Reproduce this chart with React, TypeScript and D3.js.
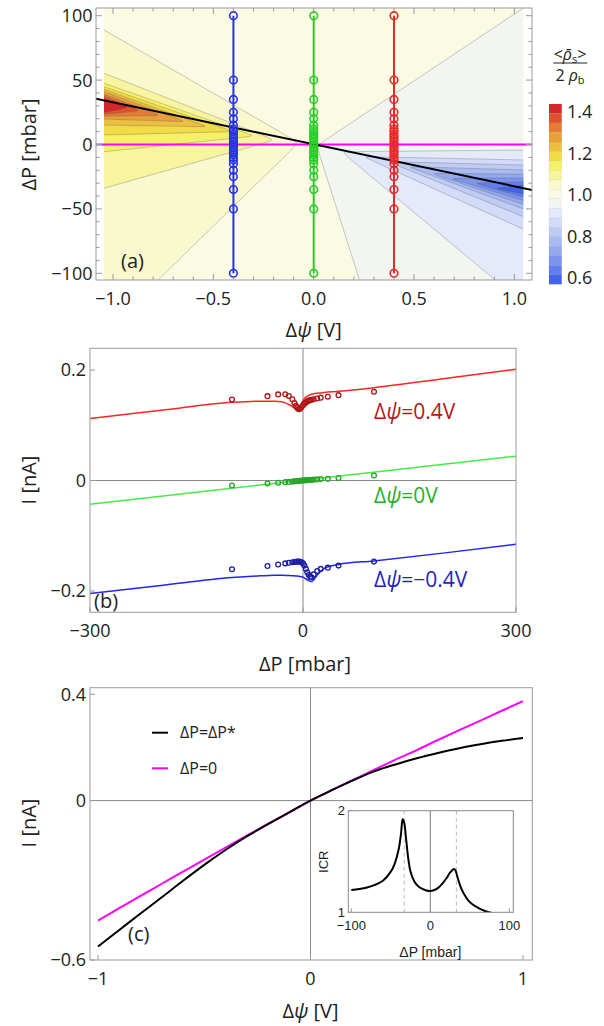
import React from "react";
import * as d3 from "d3";

type P = [number, number];

// ---------------- Panel (a): contour bands (colour bar order, top -> bottom) ----------------
const BAND_COLORS = [
  "rgb(214,38,40)", "rgb(222,82,46)", "rgb(228,124,54)", "rgb(233,160,60)",
  "rgb(237,190,64)", "rgb(241,220,72)", "rgb(246,242,104)", "rgb(248,244,160)",
  "rgb(250,248,205)", "rgb(251,251,228)", "rgb(243,245,240)", "rgb(228,234,250)",
  "rgb(210,220,248)", "rgb(190,204,245)", "rgb(170,187,242)", "rgb(148,168,240)",
  "rgb(124,148,238)", "rgb(98,126,236)", "rgb(66,100,232)",
];
const BAND_EDGES = [1.437, 1.391, 1.346, 1.3, 1.254, 1.208, 1.163, 1.117, 1.071, 1.025, 0.98, 0.934, 0.888, 0.842, 0.797, 0.751, 0.705, 0.659, 0.614, 0.568];
const CB_TICKS = [1.4, 1.2, 1.0, 0.8, 0.6];
const CB_LABELS = ["1.4", "1.2", "1.0", "0.8", "0.6"];
const BG_BAND = 9;

// left wedges (values > 1), outer -> inner
const LEFT_BAND = [8, 7, 6, 5, 4, 3, 2, 1, 0];
const LEFT_EDGE_UP = [89, 55.3, 47.5, 44.9, 42.8, 41, 39, 37.5, 35.5];
const LEFT_TIP_PSI = [-0.075, -0.195, -0.295, -0.4, -0.528, -0.637, -0.762, -0.862, -0.915];
const LEFT_TIP_DP = [1.4, 3.5, 6.6, 10, 13.8, 17.7, 22.5, 26, 29];
const LEFT_LOW_PSI = [-0.78, -1.045, -1.045, -1.045, -1.045, -1.045, -1.045, -1.045, -1.045];
const LEFT_LOW_DP = [-106, -34, -5.6, 7.4, 15.1, 19.8, 22, 23.5, 24.8];

// right wedges (values < 1), outer -> inner
const RIGHT_BAND = [10, 11, 12, 13, 14, 15, 16, 17, 18];
const RIGHT_TIP_PSI = [0.015, 0.138, 0.247, 0.37, 0.47, 0.585, 0.68, 0.8, 0.9];
const RIGHT_TIP_DP = [-1, -5.6, -9.4, -13.3, -17.2, -22.4, -26.2, -30, -34];
const RIGHT_UP_DP = [106, -4.3, -12, -16, -19.8, -23, -26, -29, -31.5];
const RIGHT_LOW_PSI = [0.23, 0.91, 1.045, 1.045, 1.045, 1.045, 1.045, 1.045, 1.045];
const RIGHT_LOW_DP = [-106, -106, -65.8, -56, -50, -46.5, -43.5, -41, -38.5];

// measurement lines in (a)
const A_PSI = [-0.4, 0, 0.4];
const A_COLORS = ["rgb(40,50,235)", "rgb(40,205,40)", "rgb(232,40,40)"];
const A_DP = [-100, -50, -35, -25, -20, -15, -12, -10, -8, -6, -4, -2, 0, 2, 4, 6, 8, 10, 12, 15, 20, 25, 35, 50, 100];
const STAR_PSI = [-1.085, 1.088];
const STAR_DP = [35.6, -35.3];

const A_XTICKS = [-1, -0.5, 0, 0.5, 1];
const A_XLABELS = ["\u22121.0", "\u22120.5", "0.0", "0.5", "1.0"];
const A_YTICKS = [-100, -50, 0, 50, 100];
const A_YLABELS = ["\u2212100", "\u221250", "0", "50", "100"];

// ---------------- Panel (b) ----------------
const B_DP = [-100, -50, -35, -25, -20, -15, -12, -10, -8, -6, -4, -2, 0, 2, 4, 6, 8, 10, 12, 15, 20, 25, 35, 50, 100];
const B_RED_PTS = [0.1467, 0.1527, 0.1558, 0.156, 0.153, 0.147, 0.14, 0.135, 0.131, 0.129, 0.13, 0.133, 0.136, 0.139, 0.141, 0.143, 0.1445, 0.1455, 0.146, 0.147, 0.1485, 0.15, 0.1515, 0.1545, 0.1605];
const B_GREEN_PTS = [-0.009, -0.0055, -0.004, -0.003, -0.0025, -0.002, -0.0015, -0.0013, -0.001, -0.0008, -0.0005, -0.0002, 0, 0.0002, 0.0004, 0.0006, 0.0008, 0.001, 0.0012, 0.0015, 0.002, 0.0025, 0.003, 0.0045, 0.009];
const B_BLUE_PTS = [-0.1607, -0.1547, -0.152, -0.15, -0.149, -0.148, -0.1475, -0.147, -0.1468, -0.1468, -0.147, -0.148, -0.15, -0.154, -0.16, -0.166, -0.171, -0.1745, -0.175, -0.17, -0.164, -0.16, -0.1577, -0.154, -0.1468];

const B_CURVE_DP = [-300, -200, -100, -60, -40, -30, -25, -20, -16, -12, -10, -8, -6, -4, -2, 0, 2, 4, 6, 8, 10, 12, 15, 20, 30, 50, 100, 200, 300];
const B_RED_CURVE = [0.112, 0.127, 0.1415, 0.1435, 0.1435, 0.1425, 0.1405, 0.1375, 0.1345, 0.131, 0.1295, 0.1287, 0.1295, 0.1335, 0.139, 0.1445, 0.148, 0.1505, 0.1525, 0.154, 0.155, 0.156, 0.157, 0.158, 0.1595, 0.1615, 0.168, 0.1845, 0.2015];
const B_BLUE_CURVE = [-0.2047, -0.19, -0.1757, -0.1725, -0.1715, -0.1715, -0.1718, -0.172, -0.1722, -0.1725, -0.1728, -0.173, -0.1733, -0.1737, -0.1742, -0.175, -0.1765, -0.178, -0.18, -0.1812, -0.1822, -0.1828, -0.18, -0.171, -0.159, -0.152, -0.1455, -0.131, -0.1154];
const B_GREEN_CURVE_DP = [-300, 300];
const B_GREEN_CURVE = [-0.043, 0.044];

const B_XTICKS = [-300, 0, 300];
const B_XLABELS = ["\u2212300", "0", "300"];
const B_YTICKS = [-0.2, 0, 0.2];
const B_YLABELS = ["\u22120.2", "0", "0.2"];

// ---------------- Panel (c) ----------------
const C_PSI = [-1, -0.9, -0.8, -0.7, -0.6, -0.5, -0.4, -0.3, -0.2, -0.1, 0, 0.1, 0.2, 0.3, 0.4, 0.5, 0.6, 0.7, 0.8, 0.9, 1];
const C_BLACK = [-0.549, -0.487, -0.425, -0.364, -0.302, -0.242, -0.186, -0.135, -0.089, -0.044, 0, 0.039, 0.076, 0.11, 0.136, 0.159, 0.179, 0.197, 0.212, 0.225, 0.2357];
const C_MAGENTA = [-0.452, -0.405, -0.359, -0.313, -0.267, -0.222, -0.177, -0.132, -0.088, -0.044, 0, 0.039, 0.078, 0.116, 0.154, 0.19, 0.228, 0.265, 0.301, 0.338, 0.374];
const C_XTICKS = [-1, 0, 1];
const C_XLABELS = ["\u22121", "0", "1"];
const C_YTICKS = [-0.6, 0, 0.4];
const C_YLABELS = ["\u22120.6", "0", "0.4"];

// inset
const ICR_DP = [-100, -90, -80, -70, -60, -50, -45, -40, -37, -35, -33, -31, -29, -27, -25, -20, -15, -10, -5, 0, 5, 10, 15, 20, 25, 30, 32, 35, 40, 45, 50, 60, 70, 75, 80];
const ICR_VAL = [1.22, 1.23, 1.245, 1.27, 1.31, 1.4, 1.48, 1.62, 1.78, 1.915, 1.88, 1.75, 1.6, 1.48, 1.4, 1.3, 1.255, 1.23, 1.215, 1.21, 1.22, 1.24, 1.28, 1.33, 1.39, 1.426, 1.41, 1.33, 1.22, 1.15, 1.1, 1.045, 1.01, 0.998, 0.99];
const ICR_DASH = [-33, 33];
const I_XTICKS = [-100, 0, 100];
const I_XLABELS = ["\u2212100", "0", "100"];
const I_YTICKS = [1, 2];
const I_YLABELS = ["1", "2"];

const FONT = "'Open Sans', 'Noto Sans', sans-serif";
const IFONT = "'Liberation Sans', Arial, sans-serif";
const FRAME = "#9a9a9a";
const TXT = "#222";

const Psi = () => <tspan fontStyle="italic">ψ</tspan>;

// rounded wedge border in pixel space: edge -> tip -> edge with a soft nose
const basis = d3.line<P>().curve(d3.curveBasis);
function roundedBorder(a: P, tip: P, b: P, r: number): string {
  const near = (p: P): P => {
    const dx = p[0] - tip[0], dy = p[1] - tip[1];
    const len = Math.hypot(dx, dy) || 1;
    const t = Math.min(0.45, r / len);
    return [tip[0] + dx * t, tip[1] + dy * t];
  };
  const na = near(a), nb = near(b);
  const mid = (p: P, q: P): P => [(p[0] + q[0]) / 2, (p[1] + q[1]) / 2];
  return basis([a, mid(a, na), na, tip, nb, mid(b, nb), b]) as string;
}

export default function App() {
  // ---------- scales ----------
  const xA = d3.scaleLinear().domain([-1, 1]).range([113, 514.4]);
  const yA = d3.scaleLinear().domain([-100, 100]).range([273.3, 15.7]);
  const FA = { l: 96, r: 532, t: 8, b: 280 };
  const CP0 = -1.045, CP1 = 1.045, CD0 = -106, CD1 = 106;

  const xB = d3.scaleLinear().domain([-300, 300]).range([90, 516]);
  const yB = d3.scaleLinear().domain([-0.2, 0.2]).range([591, 370]);
  const FB = { l: 90, r: 516, t: 348.3, b: 612.3 };

  const xC = d3.scaleLinear().domain([-1, 1]).range([98, 523]);
  const yC = d3.scaleLinear().domain([-0.6, 0.4]).range([960, 694.3]);
  const FC = { l: 90, r: 532.3, t: 687.7, b: 960 };

  const xI = d3.scaleLinear().domain([-100, 100]).range([351.3, 509.3]);
  const yI = d3.scaleLinear().domain([1, 2]).range([912.3, 810.7]);
  const FI = { l: 348.3, r: 513.3, t: 810.7, b: 912.3 };

  const yCB = d3.scaleLinear().domain([0.568, 1.437]).range([284.3, 104]);

  const px = (p: P): P => [xA(p[0]), yA(p[1])];
  const lineA = d3.line<P>().x((d) => xA(d[0])).y((d) => yA(d[1]));

  const leftPolys = LEFT_BAND.map((band, i) => {
    const a = px([CP0, LEFT_EDGE_UP[i]]);
    const tip = px([LEFT_TIP_PSI[i], LEFT_TIP_DP[i]]);
    const b = px([LEFT_LOW_PSI[i], LEFT_LOW_DP[i]]);
    const border = roundedBorder(a, tip, b, 9);
    let d = border;
    if (LEFT_LOW_PSI[i] > CP0) { const c = px([CP0, CD0]); d += `L${c[0]},${c[1]}`; }
    return { band, d: d + "Z", border };
  });
  const rightPolys = RIGHT_BAND.map((band, i) => {
    const a = px([CP1, RIGHT_UP_DP[i]]);
    const tip = px([RIGHT_TIP_PSI[i], RIGHT_TIP_DP[i]]);
    const b = px([RIGHT_LOW_PSI[i], RIGHT_LOW_DP[i]]);
    const border = roundedBorder(a, tip, b, 9);
    let d = border;
    if (RIGHT_LOW_PSI[i] < CP1) { const c = px([CP1, CD0]); d += `L${c[0]},${c[1]}`; }
    return { band, d: d + "Z", border };
  });

  const xMinorA = xA.ticks(20);
  const yMinorA = yA.ticks(20);

  const lineB = d3.line<P>().x((d) => xB(d[0])).y((d) => yB(d[1])).curve(d3.curveMonotoneX);
  const lineC = d3.line<P>().x((d) => xC(d[0])).y((d) => yC(d[1])).curve(d3.curveMonotoneX);
  const lineI = d3.line<P>().x((d) => xI(d[0])).y((d) => yI(d[1])).curve(d3.curveCatmullRom.alpha(0.5));

  const bSeries = [
    { pts: B_RED_PTS, curveDP: B_CURVE_DP, curve: B_RED_CURVE, line: "rgb(255,35,35)", pt: "rgb(175,20,20)", text: "rgb(180,25,25)", label: "0.4V", ly: 0.112 },
    { pts: B_GREEN_PTS, curveDP: B_GREEN_CURVE_DP, curve: B_GREEN_CURVE, line: "rgb(70,235,70)", pt: "rgb(40,165,40)", text: "rgb(40,175,40)", label: "0V", ly: -0.04 },
    { pts: B_BLUE_PTS, curveDP: B_CURVE_DP, curve: B_BLUE_CURVE, line: "rgb(35,35,245)", pt: "rgb(30,30,165)", text: "rgb(35,35,190)", label: "\u22120.4V", ly: -0.193 },
  ];

  const tick = (x1: number, y1: number, x2: number, y2: number, k: string) => (
    <line key={k} x1={x1} y1={y1} x2={x2} y2={y2} stroke={FRAME} strokeWidth={1} />
  );

  return (
    <svg width={604} height={1026} style={{ position: "absolute", left: 0, top: 0, background: "#fff" }} fontFamily={FONT}>
      <defs>
        <clipPath id="clipA"><rect x={FA.l} y={FA.t} width={FA.r - FA.l} height={FA.b - FA.t} /></clipPath>
        <clipPath id="clipC"><rect x={xA(CP0)} y={yA(CD1)} width={xA(CP1) - xA(CP0)} height={yA(CD0) - yA(CD1)} /></clipPath>
        <clipPath id="clipI"><rect x={FI.l} y={FI.t} width={FI.r - FI.l} height={FI.b - FI.t} /></clipPath>
        <clipPath id="clipB"><rect x={FB.l} y={FB.t} width={FB.r - FB.l} height={FB.b - FB.t} /></clipPath>
      </defs>

      {/* ================= Panel (a) ================= */}
      <g clipPath="url(#clipA)">
        <g clipPath="url(#clipC)">
          <rect x={xA(CP0)} y={yA(CD1)} width={xA(CP1) - xA(CP0)} height={yA(CD0) - yA(CD1)} fill={BAND_COLORS[BG_BAND]} />
          {leftPolys.map((p, i) => <path key={"lp" + i} d={p.d} fill={BAND_COLORS[p.band]} />)}
          {rightPolys.map((p, i) => <path key={"rp" + i} d={p.d} fill={BAND_COLORS[p.band]} />)}
          {leftPolys.map((p, i) => <path key={"lb" + i} d={p.border} fill="none" stroke="rgba(90,90,90,0.45)" strokeWidth={0.7} />)}
          {rightPolys.map((p, i) => <path key={"rb" + i} d={p.border} fill="none" stroke="rgba(90,90,90,0.45)" strokeWidth={0.7} />)}
        </g>
        <line x1={FA.l} x2={FA.r} y1={yA(0)} y2={yA(0)} stroke="rgb(255,0,255)" strokeWidth={2} />
        <path d={lineA(STAR_PSI.map((p, i) => [p, STAR_DP[i]] as P)) as string} stroke="#000" strokeWidth={2} fill="none" />
        {A_PSI.map((psi, s) => (
          <g key={"as" + s}>
            <line x1={xA(psi)} x2={xA(psi)} y1={yA(d3.min(A_DP)!)} y2={yA(d3.max(A_DP)!)} stroke={A_COLORS[s]} strokeWidth={2} />
            {A_DP.map((dp, j) => (
              <circle key={j} cx={xA(psi)} cy={yA(dp)} r={3.8} fill="none" stroke={A_COLORS[s]} strokeWidth={1.6} />
            ))}
          </g>
        ))}
      </g>
      <rect x={FA.l} y={FA.t} width={FA.r - FA.l} height={FA.b - FA.t} fill="none" stroke={FRAME} strokeWidth={1} />
      {xMinorA.map((v, i) => {
        const major = A_XTICKS.some((t) => Math.abs(t - v) < 1e-6);
        const len = major ? 6 : 3.5;
        return (
          <g key={"axm" + i}>
            {tick(xA(v), FA.b, xA(v), FA.b - len, "b")}
            {tick(xA(v), FA.t, xA(v), FA.t + len, "t")}
          </g>
        );
      })}
      {yMinorA.map((v, i) => {
        const major = A_YTICKS.some((t) => Math.abs(t - v) < 1e-6);
        const len = major ? 6 : 3.5;
        return (
          <g key={"aym" + i}>
            {tick(FA.l, yA(v), FA.l + len, yA(v), "l")}
            {tick(FA.r, yA(v), FA.r - len, yA(v), "r")}
          </g>
        );
      })}
      {A_XTICKS.map((v, i) => (
        <text key={"axl" + i} x={xA(v)} y={305} fontSize={18} textAnchor="middle" fill={TXT}>{A_XLABELS[i]}</text>
      ))}
      {A_YTICKS.map((v, i) => (
        <text key={"ayl" + i} x={92.5} y={yA(v) + 6.4} fontSize={18} textAnchor="end" fill={TXT}>{A_YLABELS[i]}</text>
      ))}
      <text x={313.7} y={337} fontSize={20} textAnchor="middle" fill={TXT}>Δ<Psi /> [V]</text>
      <text transform="translate(36,144.5) rotate(-90)" fontSize={20} textAnchor="middle" fill={TXT}>ΔP [mbar]</text>
      <text x={121} y={268} fontSize={20} fill={TXT}>(a)</text>

      {/* colour bar */}
      {BAND_COLORS.map((c, i) => (
        <rect key={"cb" + i} x={549} y={yCB(BAND_EDGES[i])} width={12.7} height={yCB(BAND_EDGES[i + 1]) - yCB(BAND_EDGES[i])} fill={c} stroke="rgba(0,0,0,0.08)" strokeWidth={0.5} />
      ))}
      {CB_TICKS.map((v, i) => (
        <text key={"cbl" + i} x={567} y={yCB(v) + 6.4} fontSize={18} fill={TXT}>{CB_LABELS[i]}</text>
      ))}
      <text x={570} y={60} fontSize={16} textAnchor="middle" fill={TXT}>
        {"<"}<tspan fontStyle="italic">ρ̄</tspan><tspan fontSize={11} dy={3}>s</tspan><tspan dy={-3}>{">"}</tspan>
      </text>
      <line x1={553.3} x2={587.3} y1={63} y2={63} stroke={TXT} strokeWidth={1} />
      <text x={570} y={81} fontSize={16} textAnchor="middle" fill={TXT}>
        2 <tspan fontStyle="italic">ρ</tspan><tspan fontSize={11} dy={3}>b</tspan>
      </text>

      {/* ================= Panel (b) ================= */}
      <line x1={FB.l} x2={FB.r} y1={yB(0)} y2={yB(0)} stroke="#8a8a8a" strokeWidth={1} />
      <line x1={xB(0)} x2={xB(0)} y1={FB.t} y2={FB.b} stroke="#8a8a8a" strokeWidth={1} />
      <g clipPath="url(#clipB)">
        {bSeries.map((s, k) => (
          <g key={"bs" + k}>
            <path d={lineB(s.curveDP.map((dp, i) => [dp, s.curve[i]] as P)) as string} fill="none" stroke={s.line} strokeWidth={1.5} />
            {B_DP.map((dp, i) => (
              <circle key={i} cx={xB(dp)} cy={yB(s.pts[i])} r={2.4} fill="none" stroke={s.pt} strokeWidth={1.3} />
            ))}
          </g>
        ))}
      </g>
      <rect x={FB.l} y={FB.t} width={FB.r - FB.l} height={FB.b - FB.t} fill="none" stroke={FRAME} strokeWidth={1} />
      {B_YTICKS.map((v, i) => (
        <g key={"byt" + i}>
          {tick(FB.l, yB(v), FB.l + 5, yB(v), "t")}
          <text x={86} y={yB(v) + 6.4} fontSize={18} textAnchor="end" fill={TXT}>{B_YLABELS[i]}</text>
        </g>
      ))}
      {B_XTICKS.map((v, i) => (
        <g key={"bxt" + i}>
          {tick(xB(v), FB.b, xB(v), FB.b - 5, "t")}
          <text x={xB(v)} y={636.5} fontSize={18} textAnchor="middle" fill={TXT}>{B_XLABELS[i]}</text>
        </g>
      ))}
      {bSeries.map((s, k) => (
        <text key={"bl" + k} x={xB(100)} y={yB(s.ly)} fontSize={21} fill={s.text}>Δ<Psi />={s.label}</text>
      ))}
      <text x={305} y={671} fontSize={20} textAnchor="middle" fill={TXT}>ΔP [mbar]</text>
      <text transform="translate(36,480) rotate(-90)" fontSize={20} textAnchor="middle" fill={TXT}>I [nA]</text>
      <text x={94} y={608} fontSize={20} fill={TXT}>(b)</text>

      {/* ================= Panel (c) ================= */}
      <line x1={FC.l} x2={FC.r} y1={yC(0)} y2={yC(0)} stroke="#8a8a8a" strokeWidth={1} />
      <line x1={xC(0)} x2={xC(0)} y1={FC.t} y2={FC.b} stroke="#8a8a8a" strokeWidth={1} />
      <path d={lineC(C_PSI.map((p, i) => [p, C_MAGENTA[i]] as P)) as string} fill="none" stroke="rgb(255,0,255)" strokeWidth={2} />
      <path d={lineC(C_PSI.map((p, i) => [p, C_BLACK[i]] as P)) as string} fill="none" stroke="#000" strokeWidth={2} />
      <rect x={FC.l} y={FC.t} width={FC.r - FC.l} height={FC.b - FC.t} fill="none" stroke={FRAME} strokeWidth={1} />
      {C_YTICKS.map((v, i) => (
        <g key={"cyt" + i}>
          {tick(FC.l, yC(v), FC.l + 5, yC(v), "t")}
          <text x={86} y={yC(v) + 6.4} fontSize={18} textAnchor="end" fill={TXT}>{C_YLABELS[i]}</text>
        </g>
      ))}
      {C_XTICKS.map((v, i) => (
        <g key={"cxt" + i}>
          {tick(xC(v), FC.b, xC(v), FC.b - 5, "t")}
          <text x={xC(v)} y={985} fontSize={18} textAnchor="middle" fill={TXT}>{C_XLABELS[i]}</text>
        </g>
      ))}
      <line x1={152} x2={168} y1={732.7} y2={732.7} stroke="#000" strokeWidth={2} />
      <text x={180} y={738} fontSize={16} fill={TXT}>ΔP=ΔP*</text>
      <line x1={152} x2={168} y1={768.3} y2={768.3} stroke="rgb(255,0,255)" strokeWidth={2} />
      <text x={180} y={773.5} fontSize={16} fill={TXT}>ΔP=0</text>
      <text x={310.5} y={1018} fontSize={20} textAnchor="middle" fill={TXT}>Δ<Psi /> [V]</text>
      <text transform="translate(36,823) rotate(-90)" fontSize={20} textAnchor="middle" fill={TXT}>I [nA]</text>
      <text x={128} y={941} fontSize={20} fill={TXT}>(c)</text>

      {/* inset */}
      <rect x={FI.l} y={FI.t} width={FI.r - FI.l} height={FI.b - FI.t} fill="#fff" />
      <g clipPath="url(#clipI)">
        {ICR_DASH.map((v, i) => (
          <line key={"dash" + i} x1={xI(v)} x2={xI(v)} y1={FI.t} y2={FI.b} stroke="#bbb" strokeWidth={1} strokeDasharray="4,3" />
        ))}
        <line x1={xI(0)} x2={xI(0)} y1={FI.t} y2={FI.b} stroke="#777" strokeWidth={1} />
        <path d={lineI(ICR_DP.map((p, i) => [p, ICR_VAL[i]] as P)) as string} fill="none" stroke="#000" strokeWidth={2} />
      </g>
      <rect x={FI.l} y={FI.t} width={FI.r - FI.l} height={FI.b - FI.t} fill="none" stroke="#888" strokeWidth={1} />
      {I_XTICKS.map((v, i) => (
        <g key={"ixt" + i}>
          {tick(xI(v), FI.b, xI(v), FI.b - 4, "t")}
          <text x={xI(v)} y={930} fontSize={13} fontFamily={IFONT} textAnchor="middle" fill={TXT}>{I_XLABELS[i]}</text>
        </g>
      ))}
      {I_YTICKS.map((v, i) => (
        <g key={"iyt" + i}>
          {tick(FI.l, yI(v), FI.l + 4, yI(v), "t")}
          <text x={345} y={yI(v) + 4.6} fontSize={13} fontFamily={IFONT} textAnchor="end" fill={TXT}>{I_YLABELS[i]}</text>
        </g>
      ))}
      <text x={430.3} y={957} fontSize={14} fontFamily={IFONT} textAnchor="middle" fill={TXT}>ΔP [mbar]</text>
      <text transform="translate(328,861.7) rotate(-90)" fontSize={13} fontFamily={IFONT} textAnchor="middle" fill={TXT}>ICR</text>
    </svg>
  );
}
